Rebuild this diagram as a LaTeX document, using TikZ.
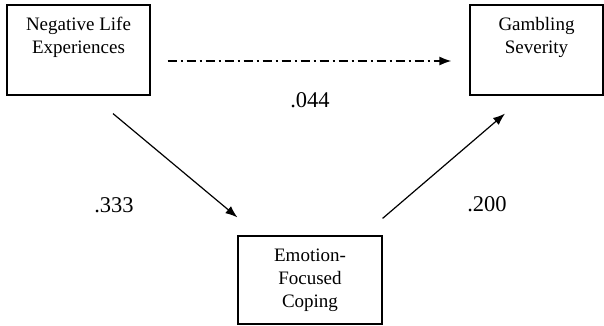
\documentclass[tikz,border=0pt]{standalone}
\usepackage{fontspec}
\setmainfont{Liberation Serif}
\usetikzlibrary{arrows.meta,positioning}

\begin{document}
\begin{tikzpicture}[x=1pt,y=1pt,>={Latex[length=12pt,width=9pt]}]
    \tikzstyle{box}=[draw,line width=1.2pt,minimum width=143pt,minimum height=90pt,inner sep=0pt]
    \tikzstyle{boxtext}=[align=center,inner sep=0pt,font=\fontsize{19}{23}\selectfont]
    \tikzstyle{coef}=[font=\fontsize{22.5}{26}\selectfont]
    \tikzstyle{link}=[->,line width=1.2pt]

    \useasboundingbox (0,0) rectangle (604,325);

    \node[box] (neg) at (78.5,275) {};
    \node[box,minimum width=133pt,right of=neg,node distance=458pt] (gam) {};
    \node[box,minimum width=144pt,minimum height=88pt] (emo) at (310,45) {};

    \node[boxtext,below=13pt of neg.north] (negtext) {Negative Life\\Experiences};
    \node[boxtext,below=13pt of gam.north] (gamtext) {Gambling\\Severity};
    \node[boxtext,below=13pt of emo.north] (emotext) {Emotion-\\Focused\\Coping};

    \draw [link,line width=1.6pt,dash pattern=on 9pt off 4pt on 2pt off 4pt,
      shorten <=17pt,shorten >=18pt]
      ([yshift=-11pt]neg.east) -- ([yshift=-11pt]gam.west);
    \draw [link] ([shift={(34.5,-18)}]neg.south) -- ([yshift=18pt]emo.north west);
    \draw [link] ([yshift=17pt]emo.north east) -- ([shift={(-31.5,-18)}]gam.south);

    \node[coef] (direct) at (310,225) {.044};
    \node[coef] (apath) at (114,120) {.333};
    \node[coef] (bpath) at (487,121) {.200};
\end{tikzpicture}
\end{document}
